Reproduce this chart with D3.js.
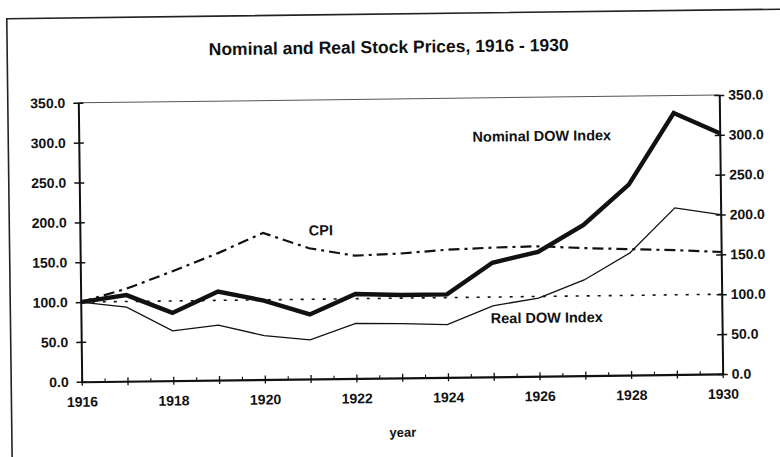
<!DOCTYPE html>
<html>
  <head>
    <meta charset="utf-8">
    <title>Nominal and Real Stock Prices, 1916 - 1930</title>
<style>
body { margin: 0; background: #fff; }
svg text { font-family: "Liberation Sans", Arial, sans-serif; font-weight: bold; fill: #111; }
.axis path, .axis line { stroke: #111; }
.axis text { font-size: 14px; }
</style>
    <script src="https://d3js.org/d3.v7.min.js"></script>
  </head>
  <body>
    <script type="text/javascript">

    // values (1916 = 100)
    var years      = [1916, 1917, 1918, 1919, 1920, 1921, 1922, 1923, 1924, 1925, 1926, 1927, 1928, 1929, 1930];
    var nominalDow = [100, 108, 85, 111, 99, 81, 106, 104, 104, 143, 156, 189, 239, 328, 302];
    var realDow    = [100, 93, 62.5, 69, 55, 49, 69, 68, 66, 89, 98, 120, 153, 209, 200];
    var cpi        = [100, 116, 137, 159, 184, 164, 154, 156, 160, 162, 163, 160, 158, 156, 153];
    var baseLine   = [100, 100, 100, 100, 100, 100, 100, 100, 100, 100, 100, 100, 100, 100, 100];
    var yTicks     = [0, 50, 100, 150, 200, 250, 300, 350];
    var yearLabels = [1916, 1918, 1920, 1922, 1924, 1926, 1928, 1930];

    var W = 780, H = 457;
    var plotLeft = 80, plotRight = 721, plotTop = 99, plotBottom = 378;

    var svg = d3.select("body").append("svg")
        .attr("width", W)
        .attr("height", H);

    // the scan is slightly tilted
    var g = svg.append("g")
        .attr("transform", "rotate(-0.7," + W / 2 + "," + 240 + ")");

    // page frame
    g.append("path")
        .attr("d", "M9.5,470 L9.5,14 L800,14")
        .attr("fill", "none")
        .attr("stroke", "#222")
        .attr("stroke-width", 1.6);

    g.append("text")
        .attr("x", 391)
        .attr("y", 53)
        .attr("text-anchor", "middle")
        .style("font-size", "17.5px")
        .text("Nominal and Real Stock Prices, 1916 - 1930");

    var x = d3.scaleLinear().domain([1916, 1930]).range([plotLeft, plotRight]);
    var y = d3.scaleLinear().domain([0, 350]).range([plotBottom, plotTop]);

    // thin top border of plot
    g.append("line")
        .attr("x1", plotLeft).attr("x2", plotRight)
        .attr("y1", y(350)).attr("y2", y(350))
        .attr("stroke", "#555")
        .attr("stroke-width", 1);

    // left axis
    var yl = g.append("g")
        .attr("class", "axis")
        .attr("transform", "translate(" + plotLeft + ",0)")
        .call(d3.axisLeft(y).tickValues(yTicks).tickFormat(d3.format(".1f")).tickSizeOuter(0));
    yl.select(".domain").attr("stroke-width", 2);
    yl.selectAll(".tick line").attr("x1", -5).attr("x2", 5).attr("stroke-width", 1.5);
    yl.selectAll(".tick text").attr("x", -13);

    // right axis
    var yr = g.append("g")
        .attr("class", "axis")
        .attr("transform", "translate(" + plotRight + ",0)")
        .call(d3.axisRight(y).tickValues(yTicks).tickFormat(d3.format(".1f")).tickSizeOuter(0));
    yr.select(".domain").attr("stroke-width", 2);
    yr.selectAll(".tick line").attr("x1", -5).attr("x2", 5).attr("stroke-width", 1.5);
    yr.selectAll(".tick text").attr("x", 9);

    // x axis: yearly ticks crossing the line, half-year minor ticks
    var xa = g.append("g")
        .attr("class", "axis")
        .attr("transform", "translate(0," + plotBottom + ")")
        .call(d3.axisBottom(x).tickValues(years)
            .tickFormat(function(d) { return yearLabels.indexOf(d) >= 0 ? d : ""; })
            .tickSizeOuter(0));
    xa.select(".domain").attr("stroke-width", 2.2);
    xa.selectAll(".tick line").attr("y1", -4).attr("y2", 4).attr("stroke-width", 1.3);
    xa.selectAll(".tick text").attr("y", 15);

    var xm = g.append("g")
        .attr("class", "axis")
        .attr("transform", "translate(0," + plotBottom + ")")
        .call(d3.axisTop(x).tickValues(d3.range(1916.5, 1930, 1)).tickFormat("").tickSize(3));
    xm.select(".domain").remove();
    xm.selectAll(".tick line").attr("stroke-width", 1.1);

    g.append("text")
        .attr("x", (plotLeft + plotRight) / 2)
        .attr("y", 437)
        .attr("text-anchor", "middle")
        .style("font-size", "13px")
        .text("year");

    // series
    var series = [
        {values: baseLine,   width: 1.6, dash: "3,8"},
        {values: cpi,        width: 2.2, dash: "11,5,3,5"},
        {values: realDow,    width: 1.3, dash: null},
        {values: nominalDow, width: 4.4, dash: null}
    ];

    var line = d3.line()
        .x(function(d, i) { return x(years[i]); })
        .y(function(d) { return y(d); });

    series.forEach(function(s) {
        g.append("path")
            .datum(s.values)
            .attr("fill", "none")
            .attr("stroke", "#111")
            .attr("stroke-width", s.width)
            .attr("stroke-linejoin", "miter")
            .attr("stroke-dasharray", s.dash)
            .attr("d", line);
    });

    // series labels
    g.append("text")
        .attr("x", x(1924.6)).attr("y", y(295))
        .style("font-size", "14.5px")
        .text("Nominal DOW Index");
    g.append("text")
        .attr("x", x(1921.0)).attr("y", y(180))
        .style("font-size", "14.5px")
        .text("CPI");
    g.append("text")
        .attr("x", x(1924.95)).attr("y", y(67))
        .style("font-size", "14.5px")
        .text("Real DOW Index");

    </script>
  </body>
</html>
